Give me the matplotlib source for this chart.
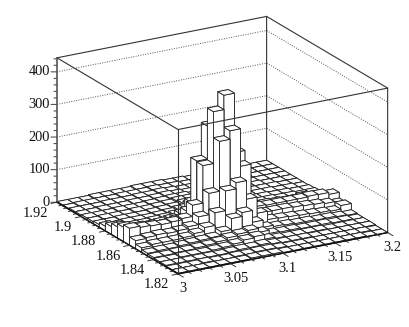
import matplotlib
matplotlib.use('Agg')
import numpy as np
import matplotlib.pyplot as plt
from mpl_toolkits.mplot3d import proj3d

x_edges = [3.0 + 0.01 * i for i in range(21)]
y_edges = [1.82 + 0.005 * j for j in range(21)]

# counts[j][i]: j = bin in y (1.82 upward), i = bin in x (3.0 upward)
counts = [
    [2, 2, 2, 2, 2, 2, 2, 4, 4, 4, 2, 2, 2, 2, 2, 2, 2, 2, 0, 0],
    [2, 2, 2, 4, 2, 2, 4, 4, 6, 6, 4, 2, 2, 2, 2, 2, 2, 2, 2, 0],
    [4, 4, 4, 4, 4, 4, 6, 8, 8, 10, 6, 4, 4, 4, 2, 2, 2, 2, 2, 2],
    [4, 4, 6, 6, 6, 8, 10, 14, 20, 24, 10, 6, 4, 4, 4, 4, 2, 2, 2, 2],
    [6, 6, 8, 8, 10, 12, 16, 22, 27, 32, 20, 10, 8, 8, 6, 6, 6, 4, 4, 2],
    [8, 10, 10, 12, 14, 16, 18, 30, 64, 76, 40, 18, 14, 12, 10, 10, 8, 8, 6, 4],
    [14, 18, 18, 18, 20, 26, 38, 77, 138, 157, 100, 50, 24, 22, 20, 18, 16, 14, 12, 23],
    [25, 28, 30, 28, 30, 36, 60, 126, 279, 305, 190, 36, 34, 34, 34, 32, 30, 28, 24, 18],
    [52, 48, 46, 44, 46, 50, 85, 200, 359, 403, 221, 60, 42, 40, 40, 40, 40, 42, 41, 35],
    [44, 30, 32, 28, 30, 36, 56, 203, 304, 250, 96, 36, 24, 22, 20, 22, 26, 30, 26, 16],
    [34, 20, 22, 20, 22, 26, 36, 66, 116, 106, 46, 26, 18, 16, 16, 14, 12, 12, 10, 8],
    [24, 14, 14, 14, 16, 18, 22, 36, 46, 46, 26, 18, 14, 12, 10, 10, 8, 8, 6, 6],
    [14, 10, 12, 12, 12, 14, 16, 20, 30, 30, 20, 14, 12, 10, 8, 8, 6, 6, 4, 4],
    [8, 8, 10, 10, 10, 12, 14, 16, 22, 22, 16, 12, 10, 8, 6, 6, 6, 4, 4, 2],
    [6, 8, 8, 8, 10, 10, 12, 14, 18, 18, 14, 10, 8, 6, 6, 4, 4, 4, 2, 2],
    [6, 6, 6, 8, 8, 8, 10, 12, 14, 14, 10, 8, 6, 6, 4, 4, 4, 2, 2, 2],
    [4, 4, 6, 6, 6, 8, 8, 10, 12, 10, 8, 6, 6, 4, 4, 4, 2, 2, 2, 2],
    [4, 4, 4, 6, 6, 6, 8, 8, 10, 8, 6, 6, 4, 4, 4, 2, 2, 2, 2, 2],
    [2, 4, 4, 4, 4, 6, 6, 6, 8, 6, 6, 4, 4, 4, 2, 2, 2, 2, 2, 2],
    [2, 2, 2, 4, 4, 4, 4, 6, 6, 6, 4, 4, 2, 2, 2, 2, 2, 2, 2, 2],
]

x_ticks = [3, 3.05, 3.1, 3.15, 3.2]
x_labels = ['3', '3.05', '3.1', '3.15', '3.2']
y_ticks = [1.82, 1.84, 1.86, 1.88, 1.9, 1.92]
y_labels = ['1.82', '1.84', '1.86', '1.88', '1.9', '1.92']
z_ticks = [0, 100, 200, 300, 400]
z_labels = ['0', '100', '200', '300', '400']
z_top = 443

plt.rcParams['font.family'] = ['Liberation Serif', 'DejaVu Serif']
font_size = 10.4

fig = plt.figure(figsize=(4.09, 3.27), dpi=100)
# big square axes so the 3d clipping stays out of the way
side = 800
cx, cy = 211.5, 171
ax = fig.add_axes([(cx - side / 2) / 409, (cy - side / 2) / 327, side / 409, side / 327],
                  projection='3d', proj_type='ortho', computed_zorder=False)
ax.set_box_aspect((1, 1, 0.635), zoom=0.985 * 1.131 * 327 / side)
ax.view_init(elev=20, azim=240)
ax.set_axis_off()
ax.patch.set_alpha(0)

x0, x1 = x_edges[0], x_edges[-1]
y0, y1 = y_edges[0], y_edges[-1]
ax.set_xlim(x0, x1)
ax.set_ylim(y0, y1)
ax.set_zlim(0, z_top)

line_col = '#333333'
dots = (0, (1, 1.5))
# dotted grid on the two back walls
for z in z_ticks[1:]:
    ax.plot([x0, x1, x1], [y1, y1, y0], [z, z, z], color='#555555', lw=0.7, ls=dots, zorder=1)
# back edges
ax.plot([x0, x1, x1], [y1, y1, y1], [z_top, z_top, 0], color=line_col, lw=0.8, zorder=1)
ax.plot([x1, x1], [y1, y0], [z_top, z_top], color=line_col, lw=0.8, zorder=1)

# bars from the back to the front
dx = x_edges[1] - x_edges[0]
dy = y_edges[1] - y_edges[0]
order = 2
for i in range(19, -1, -1):
    for j in range(19, -1, -1):
        ax.bar3d(x_edges[i], y_edges[j], 0, dx, dy, counts[j][i], color='white', shade=False,
                 edgecolor='#222222', linewidth=0.6, zorder=order)
        order += 1

# front edges of the frame over the bars
top = order + 1
ax.plot([x0, x0, x1, x1], [y1, y0, y0, y0], [z_top, z_top, z_top, 0], color=line_col, lw=0.8, zorder=top)
ax.plot([x0, x0], [y0, y0], [z_top, 0], color=line_col, lw=0.8, zorder=top)
ax.plot([x0, x0], [y1, y1], [z_top, 0], color='#555555', lw=1.2, zorder=top)
ax.plot([x0, x1], [y0, y0], [0, 0], color='#111111', lw=1.0, zorder=top)
ax.plot([x0, x0], [y0, y1], [0, 0], color='#111111', lw=1.0, zorder=top)

proj = ax.get_proj()


def flat(x, y, z):
    # 3d point to the 2d coordinates the Axes3D draws in
    px, py, _ = proj3d.proj_transform(x, y, z, proj)
    return px, py


def label(s, x, y, z, off_x, off_y, ha):
    ax.annotate(s, flat(x, y, z), xytext=(off_x, off_y), textcoords='offset pixels', ha=ha, va='center',
                fontsize=font_size, color='#111111', annotation_clip=False, zorder=top)


# ticks: z to the left on screen, x along -y, y along -x
for z in range(0, 441, 20):
    n = 6 if z % 100 == 0 else 3
    ax.annotate('', flat(x0, y1, z), xytext=(-n, 0), textcoords='offset pixels', annotation_clip=False,
                arrowprops=dict(arrowstyle='-', color='#555555', lw=0.8, shrinkA=0, shrinkB=0))
for tx in np.arange(0, 21):
    n = 6 if tx % 5 == 0 else 3
    xv = x0 + 0.01 * tx
    ax.plot([xv, xv], [y0, y0 - n / 7.0 * dy], [0, 0], color='#333333', lw=0.7, zorder=top)
for ty in np.arange(0, 26):
    n = 6 if ty % 5 == 0 else 3
    yv = y0 + 0.004 * ty
    ax.plot([x0, x0 - n / 10.7 * dx], [yv, yv], [0, 0], color='#333333', lw=0.7, zorder=top)

for z, s in zip(z_ticks, z_labels):
    label(s, x0, y1, z, -7, 0, 'right')
for xv, s in zip(x_ticks, x_labels):
    label(s, xv, y0, 0, 5, -15, 'center')
for yv, s in zip(y_ticks, y_labels):
    label(s, x0, yv, 0, -9, -11, 'right')

plt.savefig('out.png', dpi=100)
